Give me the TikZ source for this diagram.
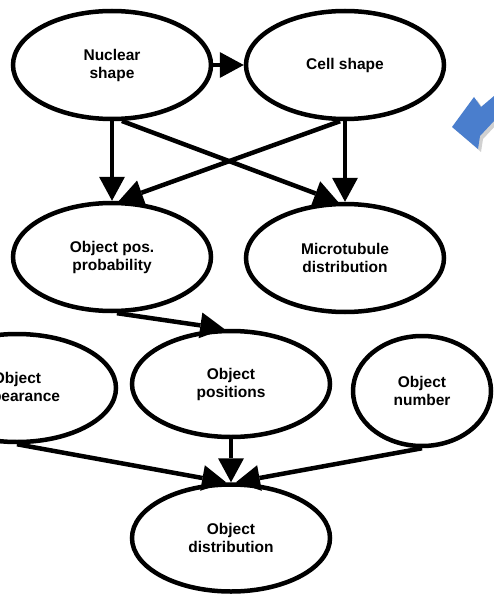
\documentclass[tikz,border=0pt]{standalone}
\usepackage{fontspec}
\setmainfont{Liberation Sans}
\usetikzlibrary{shapes.geometric,arrows.meta}
\definecolor{arrowblue}{RGB}{74,126,205}
\begin{document}
\begin{tikzpicture}[x=1pt,y=-1pt,
  ell/.style={draw=black,line width=4.5pt,ellipse,minimum width=198pt,minimum height=108pt,
    align=center,font=\fontsize{15.5}{18}\selectfont\bfseries,inner sep=0pt},
  conn/.style={line width=4.5pt,-{Triangle[length=24pt,width=26pt,line width=0pt]}}]
\useasboundingbox (0,0) rectangle (494,596);
\node[ell] (nuc) at (112,65) {Nuclear\\shape};
\node[ell] (cell) at (345,65) {Cell shape};
\node[ell] (opp) at (112,257) {Object pos.\\probability};
\node[ell] (mt) at (345,258) {Microtubule\\distribution};
\node[ell] (app) at (17,388) {Object\\appearance};
\node[ell,minimum height=106pt] (pos) at (231,384) {Object\\positions};
\node[ell,minimum width=138pt,minimum height=110pt] (num) at (422,391) {Object\\number};
\node[ell,minimum height=107pt] (dist) at (231,538) {Object\\distribution};
\draw[conn] (nuc.east) -- (cell.west);
\draw[conn] (nuc.south) -- (opp.north);
\draw[conn] (nuc.-80) -- (mt.97);
\draw[conn] (cell.-95) -- (opp.83);
\draw[conn] (cell.south) -- (mt.north);
\draw[conn] (opp.-85) -- (pos.97);
\draw[conn] (app.south) -- (dist.95);
\draw[conn] (pos.south) -- (dist.north);
\draw[conn] (num.south) -- (dist.85);
% blue block arrow with soft shadow
\fill[black,opacity=0.18] (456,130) -- (477,100) -- (484,110) -- (497,99) -- (497,124) -- (483,139) -- (481,152) -- cycle;
\fill[arrowblue] (452,127) -- (474,97) -- (481,107) -- (494,96) -- (494,121) -- (480,136) -- (478,149) -- cycle;
\end{tikzpicture}
\end{document}
